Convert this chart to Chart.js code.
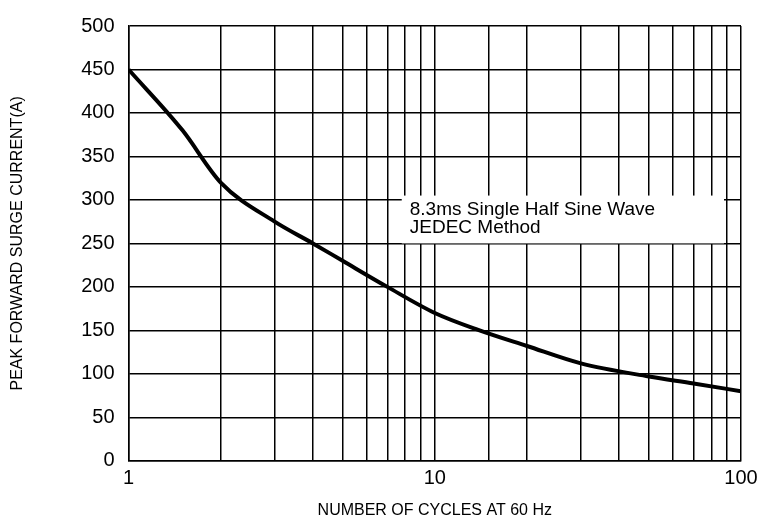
<!DOCTYPE html>
<html><head><meta charset="utf-8">
<script src="https://cdn.jsdelivr.net/npm/chart.js@4/dist/chart.umd.min.js"></script>
<style>html,body{margin:0;background:#fff}#wrap{width:767px;height:522px}</style>
</head><body><div id="wrap"><canvas id="c"></canvas></div>
<script>
const cycles = [1, 1.5, 2, 3, 4, 5, 7, 10, 14, 20, 30, 50, 70, 100];
const current = [450, 380, 320, 275, 250, 230, 200, 170, 150, 132, 112, 97, 89, 80];
const xLabels = [1, 10, 100];
const noteLines = ["8.3ms Single Half Sine Wave", "JEDEC Method"];

const notePlugin = {
  id: "note",
  afterDatasetsDraw(chart) {
    const { ctx, scales: { x, y } } = chart;
    const l = x.getPixelForValue(7.8), r = x.getPixelForValue(88);
    const t = y.getPixelForValue(305), b = y.getPixelForValue(250);
    ctx.save();
    ctx.fillStyle = "#fff";
    ctx.fillRect(l, t, r - l, b - t);
    ctx.fillStyle = "#000";
    ctx.font = "19px 'Liberation Sans', Arial";
    ctx.textBaseline = "top";
    ctx.fillText(noteLines[0], l + 8, t + 5);
    ctx.fillText(noteLines[1], l + 8, t + 23);
    ctx.restore();
  }
};

new Chart(document.getElementById("c"), {
  type: "line",
  data: {
    datasets: [{
      data: cycles.map((c, i) => ({ x: c, y: current[i] })),
      borderColor: "#000", borderWidth: 4, pointRadius: 0, cubicInterpolationMode: "monotone"
    }]
  },
  options: {
    responsive: true, maintainAspectRatio: false, animation: false,
    layout: { padding: { top: 6, right: 26, left: 4, bottom: 0 } },
    plugins: { legend: { display: false }, tooltip: { enabled: false } },
    scales: {
      x: {
        type: "logarithmic", min: 1, max: 100,
        grid: { color: "#000", lineWidth: 1.5, drawTicks: false },
        border: { color: "#000", width: 1.5 },
        ticks: {
          autoSkip: false, maxRotation: 0, minRotation: 0, color: "#000", padding: 6,
          font: { family: "'Liberation Sans', Arial", size: 20 },
          callback: v => xLabels.includes(v) ? String(v) : ""
        },
        title: { display: true, text: "NUMBER OF CYCLES AT 60 Hz", color: "#000",
          font: { family: "'Liberation Sans', Arial", size: 16 }, padding: { top: 4, bottom: 2 } }
      },
      y: {
        min: 0, max: 500,
        grid: { color: "#000", lineWidth: 1.5, drawTicks: false },
        border: { color: "#000", width: 1.5 },
        ticks: { stepSize: 50, color: "#000", padding: 14,
          font: { family: "'Liberation Sans', Arial", size: 20 } },
        title: { display: true, text: "PEAK FORWARD SURGE CURRENT(A)", color: "#000",
          font: { family: "'Liberation Sans', Arial", size: 16 }, padding: { bottom: 40 } }
      }
    }
  },
  plugins: [notePlugin]
});
</script></body></html>
